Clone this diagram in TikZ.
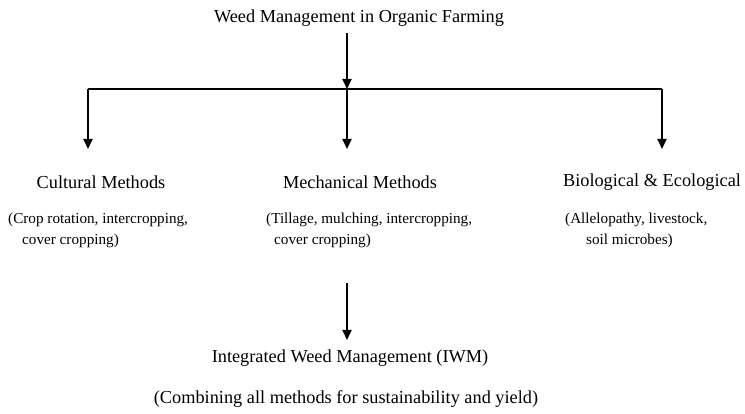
\documentclass[tikz,border=0pt]{standalone}
\usepackage{fontspec}
\setmainfont{Liberation Serif}
\usetikzlibrary{arrows.meta}
\begin{document}
\begin{tikzpicture}[x=1pt,y=1pt,
  conn/.style={line width=2.4pt},
  arr/.style={line width=2.2pt,-{Triangle[length=10pt,width=9pt]}},
  head/.style={inner sep=0pt,font=\fontsize{18.3}{22}\selectfont},
  sub/.style={inner sep=0pt,align=left,anchor=north west,font=\fontsize{15.2}{21}\selectfont}]
\useasboundingbox (0,0) rectangle (745,414);
\node[head] (title) at (359,396) {Weed Management in Organic Farming};
\coordinate (hub) at (347,325);
\coordinate (lc) at (88,325);
\coordinate (rc) at (662,325);
\coordinate (lt) at (88,265);
\coordinate (mt) at (347,265);
\coordinate (rt) at (662,265);
\draw[arr] (title.south -| hub) ++(0,-6) coordinate (ts) -- (hub);
\draw[conn] (lc) -- (rc);
\draw[arr] (lc) -- (lt);
\draw[arr] (hub) -- (mt);
\draw[arr] (rc) -- (rt);
\node[head] (cult) at (101,232) {Cultural Methods};
\node[head] (mech) at (360,232) {Mechanical Methods};
\node[head] (bio) at (652,232) {Biological \& Ecological};
\node[sub] (cultsub) at (8,201) {(Crop rotation, intercropping,\\\hspace*{14pt}cover cropping)};
\node[sub] (mechsub) at (266,201) {(Tillage, mulching, intercropping,\\\hspace*{8pt}cover cropping)};
\node[sub] (biosub) at (565,201) {(Allelopathy, livestock,\\\hspace*{21pt}soil microbes)};
\coordinate (iwmtop) at (347,131);
\node[head] (iwm) at (350,56) {Integrated Weed Management (IWM)};
\draw[arr] (iwmtop) -- (347,74);
\node[head] (comb) at (346,15) {(Combining all methods for sustainability and yield)};
\end{tikzpicture}
\end{document}
